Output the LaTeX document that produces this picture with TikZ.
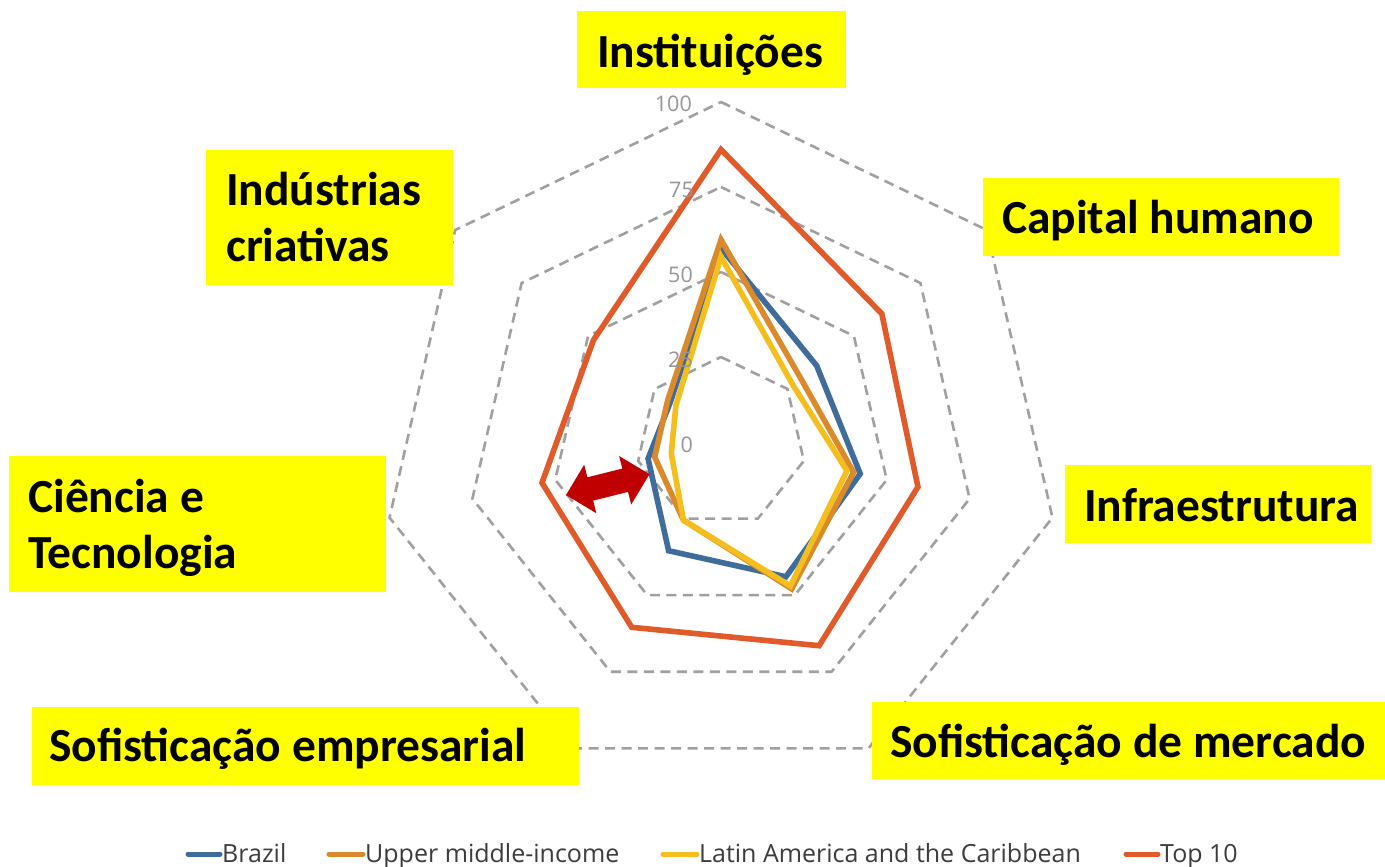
\documentclass[tikz,border=0pt]{standalone}
\usepackage{fontspec}
\setmainfont{Carlito}
\newfontfamily\legfont{Open Sans}
\definecolor{brazilc}{RGB}{62,108,155}
\definecolor{upperc}{RGB}{218,138,42}
\definecolor{latamc}{RGB}{244,190,30}
\definecolor{topc}{RGB}{224,90,42}
\definecolor{ringgray}{RGB}{160,160,160}
\definecolor{boxyellow}{RGB}{255,255,0}
\definecolor{arrowred}{RGB}{192,0,0}
\definecolor{legtext}{RGB}{60,60,60}
\definecolor{tickgray}{RGB}{150,150,150}
\begin{document}
\begin{tikzpicture}[x=1pt,y=-1pt,
  ring/.style={draw=ringgray, line width=2.6pt, dash pattern=on 10pt off 6.5pt},
  series/.style={line width=5.6pt, line join=miter},
  lbl/.style={font=\fontsize{47.5}{56}\selectfont\bfseries, inner sep=0pt, anchor=base west, text=black},
  ylbox/.style={fill=boxyellow},
  leg/.style={font=\legfont\fontsize{25}{28}\selectfont, text=legtext, inner sep=0pt, anchor=base west},
  legline/.style={line width=5pt, line cap=round},
  tick/.style={font=\legfont\fontsize{21.5}{24}\selectfont, text=tickgray, inner sep=0pt, anchor=east}]

\useasboundingbox (0,0) rectangle (1385,867);
\fill[white] (0,0) rectangle (1385,867);

% radar grid and series
\begin{scope}[shift={(721,442)}, yscale=-1]
  \foreach \r in {85,170,255,340} {
    \draw[ring] (90:\r) \foreach \k in {1,...,6} { -- (90-\k*360/7:\r) } -- cycle;
  }
  % Brazil
  \draw[series, brazilc] (90:193.8) -- (38.571:122.4) -- (-12.857:142.8) -- (-64.286:149.6)
     -- (-115.714:120.7) -- (-167.143:74.8) -- (141.429:64.6) -- cycle;
  % Upper middle-income
  \draw[series, upperc] (90:202.3) -- (38.571:102) -- (-12.857:136) -- (-64.286:163)
     -- (-115.714:86.7) -- (-167.143:68) -- (141.429:68) -- cycle;
  % Latin America and the Caribbean
  \draw[series, latamc] (90:185.3) -- (38.571:91.8) -- (-12.857:129.2) -- (-64.286:159.8)
     -- (-115.714:86.7) -- (-167.143:51) -- (141.429:57.8) -- cycle;
  % Top 10
  \draw[series, topc] (90:292.4) -- (38.571:205.7) -- (-12.857:202) -- (-64.286:226.1)
     -- (-115.714:205.7) -- (-167.143:183.6) -- (141.429:163.2) -- cycle;
\end{scope}

% scale labels
\node[tick] (t100) at (692,104) {100};
\node[tick] (t75) at (694,190) {75};
\node[tick] (t50) at (693,275) {50};
\node[tick] (t25) at (693,360) {25};
\node[tick] (t0) at (693,445) {0};

% red double arrow
\fill[arrowred, shift={(566,495)}, rotate=14]
  (0,0) -- (25,25) -- (25,12) -- (61,12) -- (61,25) -- (86,0)
  -- (61,-25) -- (61,-12) -- (25,-12) -- (25,-25) -- cycle;

% yellow labels
\fill[ylbox] (577,11) rectangle (846,88);
\node[lbl] (inst) at (597,67) {Instituições};

\fill[ylbox] (206,150) rectangle (453,285);
\node[lbl] (ind1) at (226,205) {Indústrias};
\node[lbl] (ind2) at (226,261) {criativas};

\fill[ylbox] (983,178) rectangle (1339,256);
\node[lbl] (cap) at (1002,233) {Capital humano};

\fill[ylbox] (9,456) rectangle (386,592);
\node[lbl] (cie1) at (28,512) {Ciência e};
\node[lbl] (cie2) at (28,568) {Tecnologia};

\fill[ylbox] (1065,465) rectangle (1371,543);
\node[lbl] (infra) at (1084,521) {Infraestrutura};

\fill[ylbox] (32,707) rectangle (579,785);
\node[lbl] (sofe) at (49,761) {Sofisticação empresarial};

\fill[ylbox] (872,702) rectangle (1385,779);
\node[lbl] (sofm) at (890,757) {Sofisticação de mercado};

% legend
\coordinate (lb1) at (188,854); \coordinate (lb2) at (220,854);
\draw[legline, brazilc] (lb1) -- (lb2);
\node[leg] (lgb) at (222,862) {Brazil};
\coordinate (lu1) at (329,854); \coordinate (lu2) at (363,854);
\draw[legline, upperc] (lu1) -- (lu2);
\node[leg] (lgu) at (365,862) {Upper middle-income};
\coordinate (ll1) at (663,854); \coordinate (ll2) at (697,854);
\draw[legline, latamc] (ll1) -- (ll2);
\node[leg] (lgl) at (699,862) {Latin America and the Caribbean};
\coordinate (lt1) at (1126,854); \coordinate (lt2) at (1158,854);
\draw[legline, topc] (lt1) -- (lt2);
\node[leg] (lgt) at (1160,862) {Top 10};
\end{tikzpicture}
\end{document}
